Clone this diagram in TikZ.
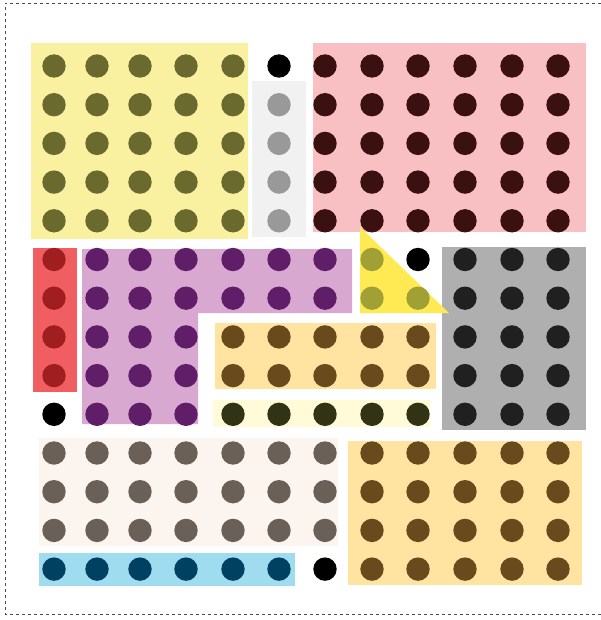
\documentclass[tikz,border=0pt]{standalone}
\usepackage{xcolor}
\usepackage{tikz}
\definecolor{lemonbox}{RGB}{249,241,160}
\definecolor{lemondot}{RGB}{107,106,46}
\definecolor{mistbox}{RGB}{241,241,242}
\definecolor{mistdot}{RGB}{153,153,153}
\definecolor{rosebox}{RGB}{249,192,196}
\definecolor{rosedot}{RGB}{58,16,16}
\definecolor{scarletbox}{RGB}{240,94,98}
\definecolor{scarletdot}{RGB}{160,30,32}
\definecolor{orchidbox}{RGB}{216,168,208}
\definecolor{orchiddot}{RGB}{96,30,104}
\definecolor{tribox}{RGB}{255,234,84}
\definecolor{tridot}{RGB}{160,160,52}
\definecolor{slatebox}{RGB}{175,175,175}
\definecolor{slatedot}{RGB}{32,32,32}
\definecolor{apricotbox}{RGB}{255,227,160}
\definecolor{apricotdot}{RGB}{104,74,28}
\definecolor{creambox}{RGB}{255,250,215}
\definecolor{creamdot}{RGB}{50,50,20}
\definecolor{linenbox}{RGB}{252,244,238}
\definecolor{linendot}{RGB}{106,96,88}
\definecolor{skybox}{RGB}{160,220,240}
\definecolor{skydot}{RGB}{0,64,96}
\newcommand{\dotblock}[5]{%
  \foreach \dC in {#1,...,#2}{%
    \foreach \dR in {#3,...,#4}{%
      \pgfmathsetmacro{\dX}{{54,97,140,186,233,279,325,372,418,465,512,558}[\dC]}%
      \fill[#5] (\dX,{66+38.7*\dR}) circle[radius=11.7];%
    }%
  }%
}

\begin{document}
\begin{tikzpicture}[x=1pt,y=-1pt]
  \useasboundingbox (0,0) rectangle (601,620);
  \draw[gray!60!black,dashed,line width=0.5pt] (601,3) -- (5,3) -- (5,614) -- (601,614);
  \fill[lemonbox] (31,43) rectangle (248,239);
  \fill[mistbox] (252,81) rectangle (306,237);
  \fill[rosebox] (313,43) rectangle (586,232);
  \fill[scarletbox] (33,248) rectangle (77,392);
  \fill[orchidbox] (82,249) -- (352,249) -- (352,313) -- (198,313) -- (198,424) -- (82,424) -- cycle;
  \fill[slatebox] (442,247) rectangle (586,430);
  \fill[tribox] (360,227) -- (360,313) -- (449,313) -- cycle;
  \fill[apricotbox] (215,323) rectangle (436,389);
  \fill[creambox] (213,400) rectangle (430,427);
  \fill[linenbox] (39,438) rectangle (338,546);
  \fill[skybox] (39,553) rectangle (295,586);
  \fill[apricotbox] (348,441) rectangle (582,585);
  \dotblock{0}{4}{0}{4}{lemondot}
  \dotblock{5}{5}{1}{4}{mistdot}
  \dotblock{6}{11}{0}{4}{rosedot}
  \dotblock{0}{0}{5}{8}{scarletdot}
  \dotblock{1}{3}{5}{9}{orchiddot}
  \dotblock{4}{6}{5}{6}{orchiddot}
  \dotblock{7}{7}{5}{6}{tridot}
  \dotblock{8}{8}{6}{6}{tridot}
  \dotblock{9}{11}{5}{9}{slatedot}
  \dotblock{4}{8}{7}{8}{apricotdot}
  \dotblock{4}{8}{9}{9}{creamdot}
  \dotblock{0}{6}{10}{12}{linendot}
  \dotblock{0}{5}{13}{13}{skydot}
  \dotblock{7}{11}{10}{13}{apricotdot}
  % the four dots left uncovered
  \dotblock{5}{5}{0}{0}{black}
  \dotblock{8}{8}{5}{5}{black}
  \dotblock{0}{0}{9}{9}{black}
  \dotblock{6}{6}{13}{13}{black}
\end{tikzpicture}
\end{document}
